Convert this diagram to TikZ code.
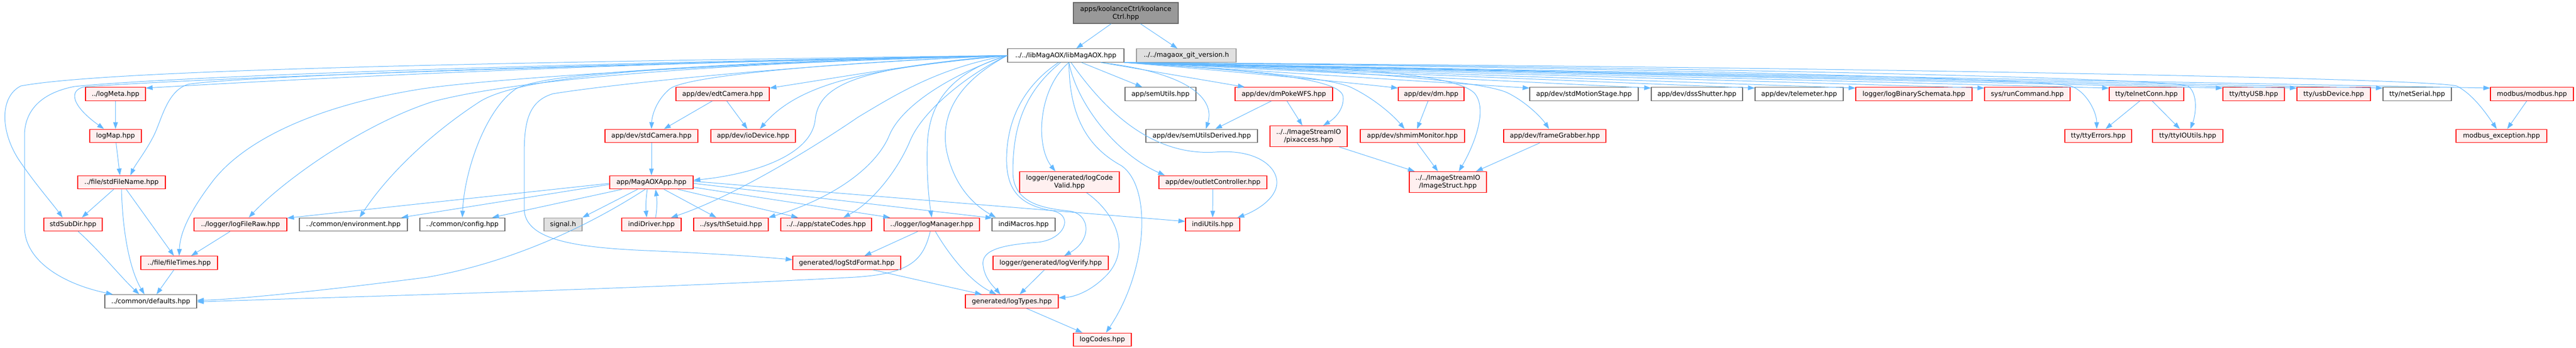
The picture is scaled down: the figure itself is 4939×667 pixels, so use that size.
\documentclass[tikz,border=0pt]{standalone}
\usepackage{fontspec}
\setmainfont{DejaVu Sans}
\usetikzlibrary{arrows.meta,calc}
\definecolor{edgeblue}{HTML}{63B8FF}
\definecolor{trunc}{HTML}{FF0000}
\definecolor{truncfill}{HTML}{FFF0F0}
\definecolor{nodegrey}{HTML}{666666}
\definecolor{extgrey}{HTML}{999999}
\definecolor{extfill}{HTML}{E0E0E0}

\begin{document}
\begin{tikzpicture}[x=1pt,y=-1pt,
    font=\fontsize{12.7}{15}\selectfont,
    filebox/.style={draw, line width=1.2pt, inner sep=0pt, minimum height=25.7pt, align=center},
    redbox/.style={filebox, draw=trunc, fill=truncfill},
    plainbox/.style={filebox, draw=nodegrey, fill=white},
    greybox/.style={filebox, draw=extgrey, fill=extfill},
    rootbox/.style={filebox, draw=nodegrey, fill=extgrey},
    edge/.style={draw=edgeblue, line width=1pt, -{Triangle[length=13pt,width=9pt]}}]
                \useasboundingbox (0,0) rectangle (4939,667);
                % top
                \node[rootbox, minimum width=201pt, minimum height=40pt] (koolance) at (2158.5,25) {apps/koolanceCtrl/koolance\\Ctrl.hpp};
                \node[plainbox, minimum width=223pt] (lib) at (2043.5,106.5) {../../libMagAOX/libMagAOX.hpp};
                \node[greybox, minimum width=191pt] (gitver) at (2274.5,106.5) {../../magaox\_git\_version.h};
                % row 2
                \node[redbox, minimum width=115pt] (logMeta) at (221.5,180.5) {../logMeta.hpp};
                \node[redbox, minimum width=179pt] (edtCamera) at (1385.5,180.5) {app/dev/edtCamera.hpp};
                \node[plainbox, minimum width=136pt] (semUtils) at (2225,180.5) {app/semUtils.hpp};
                \node[redbox, minimum width=187pt] (dmPokeWFS) at (2461.5,180.5) {app/dev/dmPokeWFS.hpp};
                \node[redbox, minimum width=126pt] (dm) at (2744,180.5) {app/dev/dm.hpp};
                \node[plainbox, minimum width=208pt] (stdMotionStage) at (3037,180.5) {app/dev/stdMotionStage.hpp};
                \node[plainbox, minimum width=175pt] (dssShutter) at (3253.5,180.5) {app/dev/dssShutter.hpp};
                \node[plainbox, minimum width=169pt] (telemeter) at (3449.5,180.5) {app/dev/telemeter.hpp};
                \node[redbox, minimum width=223pt] (logBinarySchemata) at (3669.5,180.5) {logger/logBinarySchemata.hpp};
                \node[redbox, minimum width=164pt] (runCommand) at (3887,180.5) {sys/runCommand.hpp};
                \node[redbox, minimum width=143pt] (telnetConn) at (4115.5,180.5) {tty/telnetConn.hpp};
                \node[redbox, minimum width=118pt] (ttyUSB) at (4321,180.5) {tty/ttyUSB.hpp};
                \node[redbox, minimum width=141pt] (usbDevice) at (4474.5,180.5) {tty/usbDevice.hpp};
                \node[plainbox, minimum width=131pt] (netSerial) at (4634.5,180.5) {tty/netSerial.hpp};
                \node[redbox, minimum width=159pt] (modbus) at (4854.5,180.5) {modbus/modbus.hpp};
                % row 3
                \node[redbox, minimum width=99pt] (logMap) at (221.5,261) {logMap.hpp};
                \node[redbox, minimum width=178pt] (stdCamera) at (1249,261) {app/dev/stdCamera.hpp};
                \node[redbox, minimum width=162pt] (ioDevice) at (1444,261) {app/dev/ioDevice.hpp};
                \node[plainbox, minimum width=214pt] (semUtilsDerived) at (2304,261) {app/dev/semUtilsDerived.hpp};
                \node[redbox, minimum width=148pt, minimum height=40pt] (pixaccess) at (2509,261.5) {../../ImageStreamIO\\/pixaccess.hpp};
                \node[redbox, minimum width=200pt] (shmimMonitor) at (2708,261) {app/dev/shmimMonitor.hpp};
                \node[redbox, minimum width=196pt] (frameGrabber) at (2981,261) {app/dev/frameGrabber.hpp};
                \node[redbox, minimum width=128pt] (ttyErrors) at (4023,261) {tty/ttyErrors.hpp};
                \node[redbox, minimum width=135pt] (ttyIOUtils) at (4194.5,261) {tty/ttyIOUtils.hpp};
                \node[redbox, minimum width=174pt] (modbusExc) at (4796,261) {modbus\_exception.hpp};
                % row 4
                \node[redbox, minimum width=168pt] (stdFileName) at (233,350) {../file/stdFileName.hpp};
                \node[redbox, minimum width=160pt] (MagAOXApp) at (1249,350) {app/MagAOXApp.hpp};
                \node[redbox, minimum width=191pt, minimum height=40pt] (logCodeValid) at (2050.5,349.5) {logger/generated/logCode\\Valid.hpp};
                \node[redbox, minimum width=207pt] (outletController) at (2325.5,350) {app/dev/outletController.hpp};
                \node[redbox, minimum width=148pt, minimum height=40pt] (ImageStruct) at (2776,349.5) {../../ImageStreamIO\\/ImageStruct.hpp};
                % row 5
                \node[redbox, minimum width=112pt] (stdSubDir) at (140,431) {stdSubDir.hpp};
                \node[redbox, minimum width=178pt] (logFileRaw) at (461,431) {../logger/logFileRaw.hpp};
                \node[plainbox, minimum width=207pt] (environment) at (677.5,431) {../common/environment.hpp};
                \node[plainbox, minimum width=163pt] (config) at (886.5,431) {../common/config.hpp};
                \node[greybox, minimum width=73pt] (signal) at (1079.5,431) {signal.h};
                \node[redbox, minimum width=114pt] (indiDriver) at (1249,431) {indiDriver.hpp};
                \node[redbox, minimum width=143pt] (thSetuid) at (1401.5,431) {../sys/thSetuid.hpp};
                \node[redbox, minimum width=174pt] (stateCodes) at (1584,431) {../../app/stateCodes.hpp};
                \node[redbox, minimum width=183pt] (logManager) at (1786.5,431) {../logger/logManager.hpp};
                \node[plainbox, minimum width=121pt] (indiMacros) at (1962.5,431) {indiMacros.hpp};
                \node[redbox, minimum width=104pt] (indiUtils) at (2325,431) {indiUtils.hpp};
                % rows 6-8
                \node[redbox, minimum width=147pt] (fileTimes) at (343.5,504.5) {../file/fileTimes.hpp};
                \node[redbox, minimum width=207pt] (logStdFormat) at (1623.5,504.5) {generated/logStdFormat.hpp};
                \node[redbox, minimum width=221pt] (logVerify) at (2014.5,504.5) {logger/generated/logVerify.hpp};
                \node[plainbox, minimum width=176pt] (defaults) at (289,578.5) {../common/defaults.hpp};
                \node[redbox, minimum width=178pt] (logTypes) at (1940,578.5) {generated/logTypes.hpp};
                \node[redbox, minimum width=111pt] (logCodes) at (2113.5,652) {logCodes.hpp};

                % edges
                \draw[edge] ($(koolance.south)+(-28,0)$) -- ($(lib.north)+(20,0)$);
                \draw[edge] ($(koolance.south)+(28,0)$) -- ($(gitver.north)+(-17,0)$);
                % lib, to the left
                \draw[edge] (lib.west) .. controls (900,120) and (200,135) .. (40,165) .. controls (0,185) and (0,250) .. (35,305) .. controls (65,350) and (100,390) .. ($(stdSubDir.north)+(-20,0)$);
                \draw[edge] (lib.west) .. controls (900,125) and (300,150) .. (143,166) .. controls (70,180) and (47,220) .. (47,260) -- (47,436) .. controls (47,500) and (120,545) .. ($(defaults.north west)+(16,0)$);
                \draw[edge] (lib.west) .. controls (900,130) and (300,155) .. (160,167) .. controls (130,175) and (140,205) .. ($(logMap.north west)+(28,0)$);
                \draw[edge] (lib.west) .. controls (1200,120) and (600,150) .. ($(logMeta.north east)+(0,2)$);
                \draw[edge] (lib.west) .. controls (1000,125) and (420,150) .. (360,162) .. controls (320,175) and (310,230) .. (295,260) .. controls (280,290) and (260,315) .. ($(stdFileName.north)+(17,0)$);
                \draw[edge] (lib.west) .. controls (1300,125) and (900,155) .. (800,172) .. controls (600,205) and (470,270) .. (410,345) .. controls (360,410) and (345,450) .. (fileTimes.north);
                \draw[edge] (lib.west) .. controls (1400,120) and (1000,150) .. (830,195) .. controls (690,240) and (540,350) .. ($(logFileRaw.north)+(16,0)$);
                \draw[edge] (lib.west) .. controls (1300,120) and (1000,145) .. (920,195) .. controls (820,260) and (740,340) .. ($(environment.north)+(12,0)$);
                \draw[edge] (lib.west) .. controls (1300,125) and (1050,140) .. (990,170) .. controls (930,210) and (890,330) .. (config.north);
                \draw[edge] (lib.west) .. controls (1600,120) and (1320,145) .. (1285,170) .. controls (1260,190) and (1250,220) .. (stdCamera.north);
                \draw[edge] (lib.west) .. controls (1800,115) and (1600,150) .. ($(edtCamera.north east)+(0,2)$);
                \draw[edge] (lib.west) .. controls (1700,130) and (1540,150) .. ($(ioDevice.north)+(13,0)$);
                \draw[edge] (lib.west) .. controls (1650,130) and (1570,160) .. (1563,230) .. controls (1555,300) and (1440,335) .. ($(MagAOXApp.east)+(0,-4)$);
                \draw[edge] (lib.west) .. controls (1800,130) and (1720,180) .. (1645,225) .. controls (1550,290) and (1400,380) .. ($(indiDriver.north east)+(-20,0)$);
                \draw[edge] (lib.west) .. controls (1830,140) and (1730,200) .. (1705,260) .. controls (1680,320) and (1600,380) .. (thSetuid.north east);
                \draw[edge] (lib.west) .. controls (1860,140) and (1770,210) .. (1745,270) .. controls (1720,330) and (1670,390) .. ($(stateCodes.north)+(33,0)$);
                \draw[edge] (lib.west) .. controls (1820,140) and (1780,200) .. (1778,280) .. controls (1776,340) and (1782,390) .. (logManager.north);
                \draw[edge] (lib.west) .. controls (1850,150) and (1800,210) .. (1815,290) .. controls (1830,360) and (1870,395) .. ($(indiMacros.north west)+(8,0)$);
                \draw[edge] (lib.west) .. controls (1500,125) and (1150,165) .. (1060,180) .. controls (1010,195) and (1005,240) .. (1005,300) -- (1005,400) .. controls (1005,460) and (1100,475) .. (1240,481) .. controls (1380,487) and (1470,494) .. ($(logStdFormat.west)+(0,-6)$);
                % lib, downwards
                \draw[edge] ($(lib.south)+(-14,0)$) .. controls (1970,160) and (1932,220) .. (1930,300) .. controls (1928,370) and (1960,395) .. (2020,405) .. controls (2060,415) and (2040,460) .. (1990,465) .. controls (1920,470) and (1880,480) .. (1885,510) .. controls (1888,535) and (1905,550) .. ($(logTypes.north)+(-22,0)$);
                \draw[edge] ($(lib.south)+(-10,0)$) .. controls (1960,180) and (1942,250) .. (1942,330) .. controls (1942,390) and (2000,400) .. (2050,405) .. controls (2090,410) and (2095,460) .. ($(logVerify.north)+(26,0)$);
                \draw[edge] ($(lib.south)+(6,0)$) .. controls (1990,170) and (1985,280) .. ($(logCodeValid.north)+(-27,0)$);
                \draw[edge] ($(lib.south)+(6,0)$) .. controls (2050,230) and (2090,285) .. (2150,318) .. controls (2210,360) and (2200,520) .. ($(logCodes.north)+(7,0)$);
                \draw[edge] ($(lib.south)+(30,0)$) -- ($(semUtils.north)+(-35,0)$);
                \draw[edge] ($(lib.south east)+(-45,0)$) .. controls (2280,140) and (2330,190) .. ($(semUtilsDerived.north)+(8,0)$);
                \draw[edge] ($(lib.south east)+(-45,0)$) -- ($(dmPokeWFS.north west)+(19,0)$);
                \draw[edge] ($(lib.south)+(6,0)$) .. controls (2065,200) and (2140,295) .. ($(outletController.north west)+(12,0)$);
                \draw[edge] ($(lib.south)+(10,0)$) .. controls (2110,200) and (2200,300) .. (2330,292) .. controls (2420,285) and (2460,330) .. (2445,365) .. controls (2435,390) and (2400,408) .. ($(indiUtils.north east)+(-5,0)$);
                % lib, to the right
                \draw[edge] (lib.south east) .. controls (2400,135) and (2570,150) .. (2575,185) .. controls (2578,212) and (2555,230) .. ($(pixaccess.north)+(28,0)$);
                \draw[edge] (lib.south east) .. controls (2400,135) and (2560,150) .. (2595,170) .. controls (2635,190) and (2670,220) .. ($(shmimMonitor.north)+(-15,0)$);
                \draw[edge] (lib.south east) .. controls (2400,140) and (2600,160) .. ($(dm.north west)+(0,2)$);
                \draw[edge] (lib.south east) .. controls (2500,125) and (2790,135) .. (2828,180) .. controls (2855,215) and (2820,290) .. ($(ImageStruct.north)+(21,0)$);
                \draw[edge] (lib.south east) .. controls (2600,135) and (2840,155) .. (2890,178) .. controls (2925,195) and (2955,225) .. ($(frameGrabber.north)+(-11,0)$);
                \draw[edge] (lib.south east) -- ($(stdMotionStage.north west)+(0,2)$);
                \draw[edge] (lib.south east) -- ($(dssShutter.north west)+(0,2)$);
                \draw[edge] (lib.south east) -- ($(telemeter.north west)+(0,2)$);
                \draw[edge] (lib.south east) -- ($(logBinarySchemata.north west)+(0,2)$);
                \draw[edge] (lib.south east) -- ($(runCommand.north west)+(0,2)$);
                \draw[edge] (lib.south east) -- ($(telnetConn.north west)+(0,2)$);
                \draw[edge] (lib.south east) -- ($(ttyUSB.north west)+(0,2)$);
                \draw[edge] (lib.south east) -- ($(usbDevice.north west)+(0,2)$);
                \draw[edge] (lib.south east) -- ($(netSerial.north west)+(0,2)$);
                \draw[edge] (lib.south east) -- ($(modbus.north west)+(0,2)$);
                \draw[edge] (lib.south east) .. controls (3000,128) and (3900,150) .. (3970,165) .. controls (4000,175) and (4020,215) .. ($(ttyErrors.north)+(-3,0)$);
                \draw[edge] (lib.south east) .. controls (3200,128) and (4150,150) .. (4195,165) .. controls (4215,180) and (4210,220) .. ($(ttyIOUtils.north)+(5,0)$);
                \draw[edge] (lib.south east) .. controls (3500,128) and (4650,150) .. (4710,165) .. controls (4740,180) and (4765,215) .. ($(modbusExc.north)+(-9,0)$);
                % the rest
                \draw[edge] (logMeta) -- (logMap);
                \draw[edge] ($(logMap.south)+(1,0)$) -- ($(stdFileName.north)+(-3,0)$);
                \draw[edge] ($(stdFileName.south)+(-15,0)$) -- ($(stdSubDir.north)+(17,0)$);
                \draw[edge] (stdFileName.south) .. controls (235,450) and (250,520) .. ($(defaults.north)+(-12,0)$);
                \draw[edge] ($(stdFileName.south)+(9,0)$) -- ($(fileTimes.north)+(-10,0)$);
                \draw[edge] ($(stdSubDir.south)+(10,0)$) .. controls (190,480) and (230,530) .. ($(defaults.north)+(-22,0)$);
                \draw[edge] ($(fileTimes.south)+(-10,0)$) -- ($(defaults.north)+(11,0)$);
                \draw[edge] ($(logFileRaw.south)+(-20,0)$) -- ($(fileTimes.north)+(23,0)$);
                \draw[edge] ($(edtCamera.south)+(-20,0)$) -- ($(stdCamera.north)+(24,0)$);
                \draw[edge] ($(edtCamera.south)+(8,0)$) -- ($(ioDevice.north)+(-11,0)$);
                \draw[edge] (stdCamera) -- (MagAOXApp);
                \draw[edge] ($(MagAOXApp.south)+(-8,0)$) .. controls (1238,385) and (1238,400) .. ($(indiDriver.north)+(-9,0)$);
                \draw[edge] ($(indiDriver.north)+(8,0)$) .. controls (1260,400) and (1260,385) .. ($(MagAOXApp.south)+(8,0)$);
                \draw[edge] ($(MagAOXApp.south)+(24,0)$) -- ($(thSetuid.north)+(-28,0)$);
                \draw[edge] ($(MagAOXApp.south)+(51,0)$) -- ($(stateCodes.north)+(-54,0)$);
                \draw[edge] ($(MagAOXApp.south east)+(0,-4)$) -- ($(logManager.north west)+(12,0)$);
                \draw[edge] ($(MagAOXApp.east)+(0,2)$) -- ($(indiMacros.north west)+(1,1)$);
                \draw[edge] ($(MagAOXApp.east)+(0,-2)$) -- ($(indiUtils.west)+(0,-6)$);
                \draw[edge] ($(MagAOXApp.south west)+(54,0)$) -- (signal.north east);
                \draw[edge] ($(MagAOXApp.south west)+(24,0)$) -- ($(config.north east)+(-25,0)$);
                \draw[edge] ($(MagAOXApp.west)+(0,4)$) -- ($(environment.north east)+(-12,0)$);
                \draw[edge] ($(MagAOXApp.west)+(0,2)$) -- ($(logFileRaw.north east)+(0,1)$);
                \draw[edge] ($(MagAOXApp.south)+(-12,0)$) .. controls (1150,420) and (1000,500) .. (820,532) .. controls (620,558) and (450,575) .. ($(defaults.east)+(0,-2)$);
                \draw[edge] ($(logManager.south)+(-3,0)$) .. controls (1770,500) and (1745,525) .. (1640,532) .. controls (1200,556) and (650,570) .. ($(defaults.east)+(0,1)$);
                \draw[edge] ($(logManager.south)+(-27,0)$) -- ($(logStdFormat.north)+(34,0)$);
                \draw[edge] ($(logManager.south)+(7,0)$) .. controls (1820,490) and (1860,540) .. ($(logTypes.north)+(-30,0)$);
                \draw[edge] ($(logStdFormat.south)+(50,0)$) -- ($(logTypes.north west)+(32,0)$);
                \draw[edge] ($(logVerify.south)+(-12,0)$) -- ($(logTypes.north)+(15,0)$);
                \draw[edge] ($(logCodeValid.south)+(33,0)$) .. controls (2140,410) and (2170,480) .. (2120,530) .. controls (2090,560) and (2060,570) .. ($(logTypes.east)+(0,-7)$);
                \draw[edge] ($(logTypes.south)+(28,0)$) -- ($(logCodes.north west)+(18,0)$);
                \draw[edge] (outletController) -- (indiUtils);
                \draw[edge] ($(dmPokeWFS.south)+(-24,0)$) -- ($(semUtilsDerived.north)+(26,0)$);
                \draw[edge] ($(dmPokeWFS.south)+(6,0)$) -- ($(pixaccess.north)+(-12,0)$);
                \draw[edge] ($(dm.south)+(-6,0)$) -- ($(shmimMonitor.north)+(9,0)$);
                \draw[edge] ($(pixaccess.south east)+(-16,0)$) -- ($(ImageStruct.north west)+(11,0)$);
                \draw[edge] ($(shmimMonitor.south)+(9,0)$) -- ($(ImageStruct.north)+(-19,0)$);
                \draw[edge] ($(frameGrabber.south)+(-29,0)$) -- ($(ImageStruct.north)+(54,0)$);
                \draw[edge] ($(telnetConn.south)+(-13,0)$) -- ($(ttyErrors.north)+(14,0)$);
                \draw[edge] ($(telnetConn.south)+(11,0)$) -- ($(ttyIOUtils.north)+(-15,0)$);
                \draw[edge] ($(modbus.south)+(-10,0)$) -- ($(modbusExc.north)+(11,0)$);
\end{tikzpicture}
\end{document}
